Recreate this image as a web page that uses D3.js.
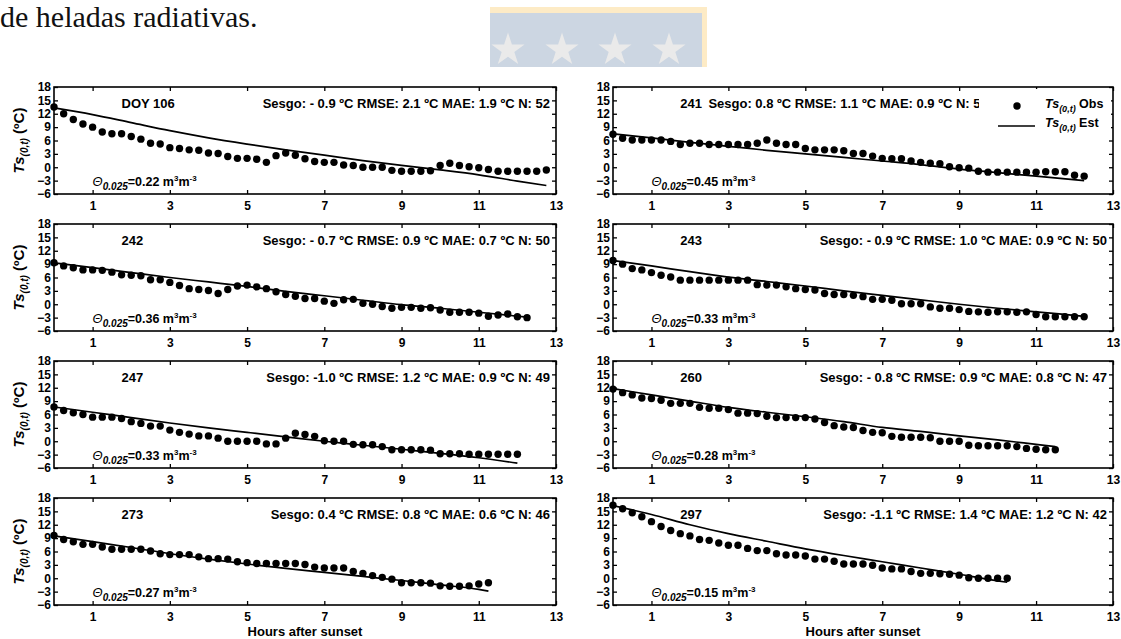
<!DOCTYPE html>
<html><head><meta charset="utf-8">
<script src="https://cdn.jsdelivr.net/npm/d3@7"></script>
<style>
body{margin:0;background:#fff;}
svg{display:block;font-family:"Liberation Sans",Arial,sans-serif;}
</style>
</head><body>
<svg id="c" width="1121" height="639"></svg>
<script>
// ---------- data ----------
const hours = [0,0.25,0.5,0.75,1,1.25,1.5,1.75,2,2.25,2.5,2.75,3,3.25,3.5,3.75,4,4.25,4.5,4.75,5,5.25,5.5,5.75,6,6.25,6.5,6.75,7,7.25,7.5,7.75,8,8.25,8.5,8.75,9,9.25,9.5,9.75,10,10.25,10.5,10.75,11,11.25,11.5,11.75,12,12.25,12.5,12.75];
const xTicks = [1,3,5,7,9,11,13];
const yTicks = [-6,-3,0,3,6,9,12,15,18];

const dayLabels = ["DOY 106","241","242","243","247","260","273","297"];
const statsLabels = [
  "Sesgo: - 0.9 ºC RMSE: 2.1 ºC MAE: 1.9 ºC N: 52",
  "Sesgo: 0.8 ºC RMSE: 1.1 ºC MAE: 0.9 ºC N: 50",
  "Sesgo: - 0.7 ºC RMSE: 0.9 ºC MAE: 0.7 ºC N: 50",
  "Sesgo: - 0.9 ºC RMSE: 1.0 ºC MAE: 0.9 ºC N: 50",
  "Sesgo: -1.0 ºC RMSE: 1.2 ºC MAE: 0.9 ºC N: 49",
  "Sesgo: - 0.8 ºC RMSE: 0.9 ºC MAE: 0.8 ºC N: 47",
  "Sesgo: 0.4 ºC RMSE: 0.8 ºC MAE: 0.6 ºC N: 46",
  "Sesgo: -1.1 ºC RMSE: 1.4 ºC MAE: 1.2 ºC N: 42"
];
const thetaValues = ["0.22","0.45","0.36","0.33","0.33","0.28","0.27","0.15"];

const obs106 = [13.5,12.0,10.7,9.7,9.0,7.9,7.5,7.5,6.9,6.3,5.4,5.2,4.4,4.2,3.9,3.8,3.2,3.1,2.4,2.0,2.0,1.8,1.1,2.6,3.2,2.7,1.9,1.3,1.1,1.1,0.5,0.4,0.0,0.0,0.0,-0.7,-0.9,-0.9,-0.9,-0.8,0.4,0.9,0.4,0.1,-0.1,-0.5,-0.9,-0.9,-0.9,-0.9,-0.9,-0.6];
const obs241 = [7.4,6.5,6.1,6.1,6.1,6.1,5.8,5.1,5.4,5.4,5.1,5.1,5.1,5.1,5.1,5.4,6.1,5.4,5.1,5.1,4.2,3.9,3.9,3.9,3.7,3.1,3.1,2.5,2.0,1.9,1.9,1.4,1.1,0.9,0.8,0.1,-0.1,-0.2,-0.9,-1.1,-1.1,-1.1,-1.1,-1.1,-1.1,-1.0,-1.0,-1.0,-1.8,-2.0];
const obs242 = [9.3,8.6,8.2,7.7,7.7,7.6,7.2,6.6,6.5,6.4,5.5,5.5,4.9,4.2,3.5,3.3,3.1,2.4,3.3,4.1,4.3,3.9,3.5,2.8,2.2,1.8,1.3,1.3,0.7,0.2,1.0,1.1,0.2,0.0,-0.5,-0.9,-0.7,-0.7,-0.9,-0.8,-1.3,-1.8,-1.8,-1.8,-2.0,-2.7,-2.4,-2.2,-2.8,-3.0];
const obs243 = [9.8,9.0,8.0,7.7,7.1,6.5,6.1,5.4,5.4,5.4,5.4,5.4,5.4,5.4,5.4,4.4,4.3,4.3,3.9,3.5,3.3,3.2,2.4,2.2,2.2,2.0,1.7,1.1,1.1,0.9,0.1,0.1,0.1,-0.6,-0.9,-0.9,-1.2,-1.6,-1.7,-1.8,-1.7,-1.7,-1.8,-1.7,-2.3,-2.8,-2.8,-2.8,-2.8,-2.8];
const obs247 = [7.7,6.9,6.4,6.0,5.4,5.4,5.4,5.1,4.4,4.0,3.4,3.4,2.5,2.0,1.6,1.2,1.2,0.7,0.0,0.0,0.0,0.0,-0.6,-0.6,0.7,1.8,1.5,1.1,0.1,0.0,0.0,-0.7,-0.8,-0.8,-1.2,-1.9,-1.9,-1.9,-1.9,-2.0,-2.8,-2.8,-2.8,-2.9,-2.9,-2.9,-2.9,-2.9,-2.9];
const obs260 = [11.7,10.9,10.4,9.7,9.6,9.2,8.5,8.5,8.5,7.6,7.4,7.4,7.1,6.3,6.3,6.2,5.6,5.3,5.3,5.3,5.3,5.0,4.2,3.5,3.2,3.1,2.4,2.0,1.9,1.1,0.9,0.9,0.9,0.8,0.0,0.0,0.0,-0.9,-1.0,-1.0,-1.0,-1.0,-1.2,-1.6,-1.8,-1.9,-1.9];
const obs273 = [9.6,8.7,8.2,7.6,7.6,7.0,6.5,6.5,6.5,6.5,6.1,5.5,5.3,5.3,5.3,4.8,4.4,4.4,4.3,3.7,3.5,3.3,3.3,3.3,3.3,3.3,3.1,2.5,2.3,2.3,2.3,1.5,1.1,0.6,0.2,-0.2,-1.0,-1.0,-1.0,-1.1,-1.7,-1.8,-1.8,-1.7,-1.3,-1.0];
const obs297 = [16.4,15.6,14.7,13.8,12.7,11.6,10.7,10.0,9.5,8.7,8.5,7.9,7.4,7.4,6.7,6.2,6.2,5.5,5.2,5.2,5.0,4.3,4.3,3.8,3.2,3.2,3.2,2.9,2.3,2.1,2.1,1.5,1.1,1.1,1.0,0.9,0.7,0.1,0.0,0.0,0.0,0.0];

const est106 = [[0,13.3],[1,11.8],[2,10.0],[3,8.2],[4,6.6],[5,5.2],[6,3.9],[7,2.7],[8,1.5],[9,0.4],[10,-0.6],[11,-1.7],[12,-3.1],[12.75,-4.1]];
const est241 = [[0,7.5],[1,6.6],[2,5.6],[3,4.7],[4,3.8],[5,3.0],[6,2.2],[7,1.4],[8,0.6],[9,-0.4],[10,-1.2],[11,-2.0],[12.25,-3.0]];
const est242 = [[0,9.3],[1,8.2],[2,7.1],[3,6.0],[4,5.0],[5,4.0],[6,2.9],[7,1.9],[8,0.9],[9,-0.1],[10,-0.9],[11,-1.8],[12.25,-2.9]];
const est243 = [[0,9.8],[1,8.6],[2,7.3],[3,6.1],[4,5.1],[5,4.1],[6,3.0],[7,2.0],[8,1.0],[9,0.0],[10,-0.9],[11,-1.7],[12.25,-2.7]];
const est247 = [[0,7.7],[1,6.5],[2,5.3],[3,4.1],[4,3.0],[5,2.0],[6,1.0],[7,0.0],[8,-0.9],[9,-1.8],[10,-2.7],[11,-3.7],[12,-4.9]];
const est260 = [[0,11.8],[1,10.4],[2,9.0],[3,7.6],[4,6.5],[5,5.5],[6,4.4],[7,3.1],[8,2.2],[9,1.2],[10,0.3],[11,-0.7],[11.5,-1.2]];
const est273 = [[0,9.5],[1,8.2],[2,6.9],[3,5.5],[4,4.3],[5,3.2],[6,2.2],[7,1.3],[8,0.4],[9,-0.5],[10,-1.5],[11,-2.5],[11.25,-2.9]];
const est297 = [[0,16.3],[1,14.3],[2,12.0],[3,10.0],[4,8.3],[5,6.6],[6,5.1],[7,3.7],[8,2.3],[9,0.9],[10,-0.6],[10.25,-0.9]];

const obsSeries = [obs106,obs241,obs242,obs243,obs247,obs260,obs273,obs297];
const estSeries = [est106,est241,est242,est243,est247,est260,est273,est297];

// ---------- layout ----------
const svg = d3.select("#c");
const cols = [[54,556],[613,1113]];
const rows = [87,224,361,498];
const H = 107;

// header text
svg.append("text").attr("x",0).attr("y",27)
  .style("font-family",'"Liberation Serif","Times New Roman",serif')
  .style("font-size","30px").attr("fill","#111").text("de heladas radiativas.");

// watermark
const wm = svg.append("g");
wm.append("rect").attr("x",490).attr("y",7).attr("width",217).attr("height",60).attr("fill","#fdebc6");
wm.append("rect").attr("x",490).attr("y",13).attr("width",212).attr("height",54).attr("fill","#ccd6e2");
const starPath = d3.symbol(d3.symbolStar, 340)();
[508,562,615,669].forEach(cx=>{
  wm.append("path").attr("d",starPath).attr("transform",`translate(${cx},50)`).attr("fill","#eaeaea");
});
wm.append("rect").attr("x",488).attr("y",67).attr("width",221).attr("height",10).attr("fill","#fff");

function styleAxis(g){
  g.select(".domain").remove();
  g.selectAll("line").attr("stroke","#000").attr("stroke-width",1.3);
  g.selectAll("text").attr("fill","#000").style("font-size","12px").style("font-weight","bold")
    .style("font-family",'"Liberation Sans",Arial,sans-serif');
}

obsSeries.forEach((obs,i)=>{
  const c = i%2, r = Math.floor(i/2);
  const x = d3.scaleLinear().domain([0,13]).range(cols[c]);
  const y = d3.scaleLinear().domain([-6,18]).range([rows[r]+H, rows[r]]);
  const g = svg.append("g");

  g.append("g").attr("transform",`translate(0,${y(-6)})`)
    .call(d3.axisBottom(x).tickValues(xTicks).tickSizeInner(-4).tickSizeOuter(0).tickPadding(7)).call(styleAxis);
  g.append("g").attr("transform",`translate(0,${y(18)})`)
    .call(d3.axisTop(x).tickValues(xTicks).tickSizeInner(-4).tickSizeOuter(0).tickFormat("")).call(styleAxis);
  g.append("g").attr("transform",`translate(${x(0)},0)`)
    .call(d3.axisLeft(y).tickValues(yTicks).tickSizeInner(-4).tickSizeOuter(0).tickPadding(3)).call(styleAxis);
  g.append("g").attr("transform",`translate(${x(13)},0)`)
    .call(d3.axisRight(y).tickValues(yTicks).tickSizeInner(-4).tickSizeOuter(0).tickFormat("")).call(styleAxis);

  // estimated line
  g.append("path").datum(estSeries[i])
    .attr("d", d3.line().x(d=>x(d[0])).y(d=>y(d[1])).curve(d3.curveMonotoneX))
    .attr("fill","none").attr("stroke","#000").attr("stroke-width",1.7);

  // observed points
  g.selectAll("circle.o").data(obs).join("circle")
    .attr("cx",(d,j)=>x(hours[j])).attr("cy",d=>y(d)).attr("r",3.7).attr("fill","#000");

  // frame
  g.append("rect").attr("x",x(0)).attr("y",y(18)).attr("width",x(13)-x(0)).attr("height",y(-6)-y(18))
    .attr("fill","none").attr("stroke","#000").attr("stroke-width",1.6);

  // day label
  g.append("text").attr("x",x(1.75)).attr("y",y(18)+21)
    .style("font-size","13px").style("font-weight","bold").text(dayLabels[i]);

  // stats
  const st = g.append("text").attr("y",y(18)+21).style("font-size","13px").style("font-weight","bold").text(statsLabels[i]);
  if(i===1){ st.attr("x",x(2.48)).attr("text-anchor","start"); }
  else { st.attr("x",x(13)-6).attr("text-anchor","end"); }

  // theta label
  const th = g.append("text").attr("x",x(1.0)).attr("y",y(-6)-8).style("font-size","12.5px").style("font-weight","bold");
  th.append("tspan").style("font-style","italic").style("font-weight","normal").style("font-size","13px").text("Θ");
  th.append("tspan").attr("dy",4).style("font-style","italic").style("font-size","10px").text("0.025");
  th.append("tspan").attr("dy",-4).text("=" + thetaValues[i] + " m");
  th.append("tspan").attr("dy",-5).style("font-size","8px").text("3");
  th.append("tspan").attr("dy",5).text("m");
  th.append("tspan").attr("dy",-5).style("font-size","8px").text("-3");

  // legend in panel 2 (white box partly covers the stats text, as in the original)
  if(i===1){
    const lg = g.append("g");
    lg.append("rect").attr("x",979).attr("y",y(18)+2).attr("width",x(13)-981).attr("height",44).attr("fill","#fff");
    lg.append("circle").attr("cx",1017).attr("cy",y(18)+19).attr("r",3.7).attr("fill","#000");
    lg.append("line").attr("x1",998).attr("x2",1035).attr("y1",y(18)+39).attr("y2",y(18)+39).attr("stroke","#000").attr("stroke-width",1.7);
    [["Obs",y(18)+21],["Est",y(18)+40]].forEach(([lab,yy])=>{
      const t = lg.append("text").attr("x",1045).attr("y",yy).style("font-size","12.5px").style("font-weight","bold");
      t.append("tspan").style("font-style","italic").text("Ts");
      t.append("tspan").attr("dy",4).style("font-style","italic").style("font-size","9px").text("(0,t)");
      t.append("tspan").attr("dy",-4).text(" " + lab);
    });
  }

  // y title (left column)
  if(c===0){
    const cy = (y(18)+y(-6))/2;
    const t = g.append("text").attr("transform",`translate(24,${cy}) rotate(-90)`).attr("text-anchor","middle")
      .style("font-size","15px").style("font-weight","bold");
    t.append("tspan").style("font-style","italic").text("Ts");
    t.append("tspan").attr("dy",4).style("font-style","italic").style("font-size","10px").text("(0,t)");
    t.append("tspan").attr("dy",-4).text(" (ºC)");
  }
  // x title (last row)
  if(r===3){
    g.append("text").attr("x",(x(0)+x(13))/2).attr("y",636).attr("text-anchor","middle")
      .style("font-size","13px").style("font-weight","bold").text("Hours after sunset");
  }
});
</script>
</body></html>
